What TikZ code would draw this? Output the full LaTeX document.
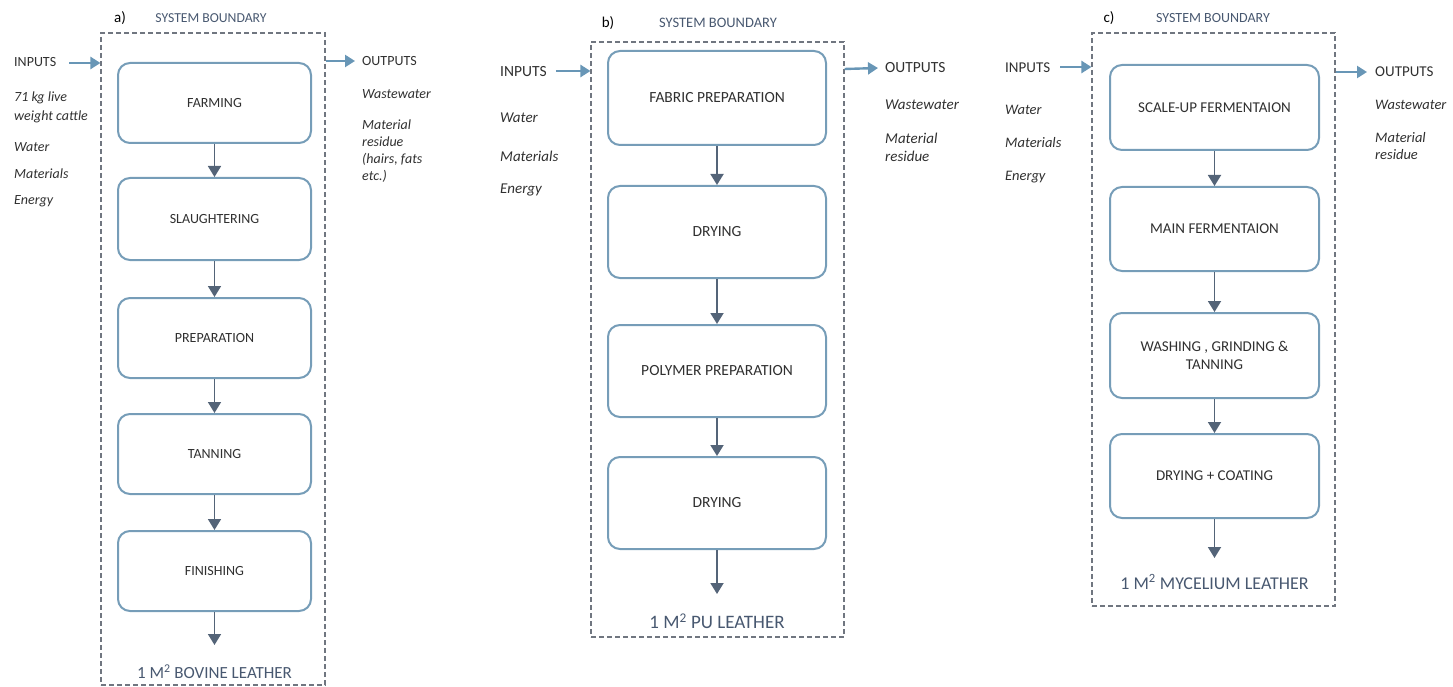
\documentclass[tikz,border=0pt]{standalone}
\usepackage{fontspec}
\setmainfont{Carlito}
\usetikzlibrary{arrows.meta,calc}
\definecolor{boxc}{RGB}{118,157,184}
\definecolor{flowc}{RGB}{84,100,120}
\definecolor{ioc}{RGB}{104,150,182}
\definecolor{bndc}{RGB}{112,118,128}
\definecolor{sbc}{RGB}{72,88,112}
\definecolor{txtc}{RGB}{48,48,48}
\begin{document}
\begin{tikzpicture}[x=1pt,y=-1pt,
  pbox/.style={draw=boxc, line width=2pt, rounded corners=12pt, fill=white, text=txtc, align=center},
  bound/.style={draw=bndc, line width=1.1pt, dash pattern=on 5pt off 3pt},
  flow/.style={draw=flowc, line width=1.8pt, -{Triangle[length=11pt,width=13pt]}},
  io/.style={draw=ioc, line width=2.4pt, -{Triangle[length=10pt,width=12pt]}},
  lbl/.style={inner sep=0pt, text=txtc, anchor=west, align=left},
  sb/.style={inner sep=0pt, text=sbc},
  fin/.style={inner sep=0pt, text=sbc}
]
\useasboundingbox (0,0) rectangle (1453,687);

% ---------------- Panel a ----------------
\node[bound, minimum width=224pt, minimum height=652pt, inner sep=0pt] (bA) at (213,359) {};
\node[inner sep=0pt, font=\fontsize{15}{18}\selectfont] (labA) at (120,18) {a)};
\node[sb, font=\fontsize{13.7}{16}\selectfont] (sbA) at (211,18) {SYSTEM BOUNDARY};
\begin{scope}[every node/.append style={font=\fontsize{14}{17}\selectfont}]
\node[pbox, minimum width=193pt, minimum height=80pt] (a1) at (214.5,103) {FARMING};
\node[pbox, minimum width=193pt, minimum height=82pt] (a2) at (214.5,219) {SLAUGHTERING};
\node[pbox, minimum width=193pt, minimum height=80pt] (a3) at (214.5,338) {PREPARATION};
\node[pbox, minimum width=193pt, minimum height=80pt] (a4) at (214.5,454) {TANNING};
\node[pbox, minimum width=193pt, minimum height=80pt] (a5) at (214.5,571) {FINISHING};
\node[lbl] (inA) at (14,62) {INPUTS};
\node[lbl, font=\fontsize{14}{19}\selectfont\itshape] (inA1) at (14,107.5) {71 kg live\\weight cattle};
\node[lbl, font=\fontsize{14}{17}\selectfont\itshape] (inA2) at (14,147) {Water};
\node[lbl, font=\fontsize{14}{17}\selectfont\itshape] (inA3) at (14,174) {Materials};
\node[lbl, font=\fontsize{14}{17}\selectfont\itshape] (inA4) at (14,201) {Energy};
\node[lbl] (outA) at (362,61) {OUTPUTS};
\node[lbl, font=\fontsize{14}{17}\selectfont\itshape] (outA1) at (362,94) {Wastewater};
\node[lbl, font=\fontsize{14}{17}\selectfont\itshape] (outA2) at (362,151.5) {Material\\residue\\(hairs, fats\\etc.)};
\end{scope}
\coordinate (endA) at (214.5,645);
\node[fin, font=\fontsize{17}{20}\selectfont] (finA) at (214.5,672) {1 M\textsuperscript{2} BOVINE LEATHER};
\draw[flow] (a1) -- (a2);
\draw[flow] (a2) -- (a3);
\draw[flow] (a3) -- (a4);
\draw[flow] (a4) -- (a5);
\draw[flow] (a5) -- (endA);
\draw[io] ([xshift=13pt]inA.east |- 0,63) -- (bA.west |- 0,63);
\draw[io] (bA.east |- 0,61) -- ([xshift=-7pt]outA.west);

% ---------------- Panel b ----------------
\node[bound, minimum width=253pt, minimum height=595pt, inner sep=0pt] (bB) at (717.5,339.5) {};
\node[inner sep=0pt, font=\fontsize{15}{18}\selectfont] (labB) at (608,23) {b)};
\node[sb, font=\fontsize{14.5}{17}\selectfont] (sbB) at (718,23) {SYSTEM BOUNDARY};
\begin{scope}[every node/.append style={font=\fontsize{15.5}{19}\selectfont}]
\node[pbox, minimum width=218pt, minimum height=94pt] (b1) at (717,98) {FABRIC PREPARATION};
\node[pbox, minimum width=218pt, minimum height=92pt] (b2) at (717,232) {DRYING};
\node[pbox, minimum width=218pt, minimum height=92pt] (b3) at (717,371) {POLYMER PREPARATION};
\node[pbox, minimum width=218pt, minimum height=92pt] (b4) at (717,503) {DRYING};
\node[lbl] (inB) at (500,72) {INPUTS};
\node[lbl, font=\fontsize{15}{18}\selectfont\itshape] (inB1) at (500,118) {Water};
\node[lbl, font=\fontsize{15}{18}\selectfont\itshape] (inB2) at (500,156) {Materials};
\node[lbl, font=\fontsize{15}{18}\selectfont\itshape] (inB3) at (500,190) {Energy};
\node[lbl] (outB) at (885,68) {OUTPUTS};
\node[lbl, font=\fontsize{15}{18}\selectfont\itshape] (outB1) at (885,105) {Wastewater};
\node[lbl, font=\fontsize{15}{18}\selectfont\itshape] (outB2) at (885,147) {Material\\residue};
\end{scope}
\coordinate (endB) at (717,594);
\node[fin, font=\fontsize{19}{22}\selectfont] (finB) at (717,621) {1 M\textsuperscript{2} PU LEATHER};
\draw[flow] (b1) -- (b2);
\draw[flow] (b2) -- (b3);
\draw[flow] (b3) -- (b4);
\draw[flow] (b4) -- (endB);
\draw[io] ([xshift=9pt]inB.east |- 0,71) -- (bB.west |- 0,71);
\draw[io] (bB.east |- 0,69) -- ([xshift=-7pt]outB.west);

% ---------------- Panel c ----------------
\node[bound, minimum width=243pt, minimum height=573pt, inner sep=0pt] (bC) at (1213.5,319.5) {};
\node[inner sep=0pt, font=\fontsize{15}{18}\selectfont] (labC) at (1109,18) {c)};
\node[sb, font=\fontsize{14}{17}\selectfont] (sbC) at (1213,18) {SYSTEM BOUNDARY};
\begin{scope}[every node/.append style={font=\fontsize{15}{18.5}\selectfont}]
\node[pbox, minimum width=209pt, minimum height=85pt] (c1) at (1214.5,107.5) {SCALE-UP FERMENTAION};
\node[pbox, minimum width=209pt, minimum height=84pt] (c2) at (1214.5,229) {MAIN FERMENTAION};
\node[pbox, minimum width=209pt, minimum height=85pt] (c3) at (1214.5,355.5) {WASHING , GRINDING \&\\TANNING};
\node[pbox, minimum width=209pt, minimum height=84pt] (c4) at (1214.5,476) {DRYING + COATING};
\node[lbl] (inC) at (1005,68) {INPUTS};
\node[lbl, font=\fontsize{14.5}{17}\selectfont\itshape] (inC1) at (1005,110) {Water};
\node[lbl, font=\fontsize{14.5}{17}\selectfont\itshape] (inC2) at (1005,143) {Materials};
\node[lbl, font=\fontsize{14.5}{17}\selectfont\itshape] (inC3) at (1005,177) {Energy};
\node[lbl] (outC) at (1375,72) {OUTPUTS};
\node[lbl, font=\fontsize{14.5}{17}\selectfont\itshape] (outC1) at (1375,105) {Wastewater};
\node[lbl, font=\fontsize{14.5}{17}\selectfont\itshape] (outC2) at (1375,146.5) {Material\\residue};
\end{scope}
\coordinate (endC) at (1214.5,558);
\node[fin, font=\fontsize{18}{21}\selectfont] (finC) at (1214.5,582) {1 M\textsuperscript{2} MYCELIUM LEATHER};
\draw[flow] (c1) -- (c2);
\draw[flow] (c2) -- (c3);
\draw[flow] (c3) -- (c4);
\draw[flow] (c4) -- (endC);
\draw[io] ([xshift=10pt]inC.east |- 0,67) -- (bC.west |- 0,67);
\draw[io] (bC.east |- 0,72) -- ([xshift=-8pt]outC.west);
\end{tikzpicture}
\end{document}
